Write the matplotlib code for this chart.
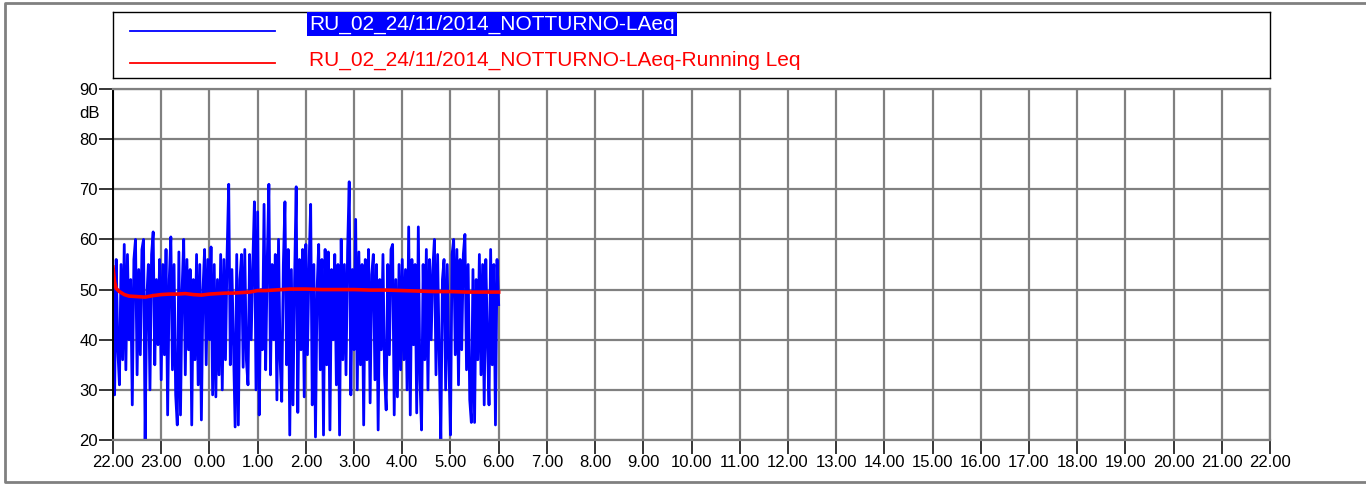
"""Night-time LAeq record with running Leq, 22.00 to 22.00 time axis."""

import matplotlib
matplotlib.use("Agg")
import matplotlib.pyplot as plt
from matplotlib.lines import Line2D

FONT = ["Liberation Sans Narrow", "Liberation Sans", "DejaVu Sans"]
GRID_GRAY = "#808080"
BLUE = "#0000ff"
RED = "#ff0000"

SERIES_LAEQ = "RU_02_24/11/2014_NOTTURNO-LAeq"
SERIES_RUNNING = "RU_02_24/11/2014_NOTTURNO-LAeq-Running Leq"

# LAeq samples every 2 minutes from 22.00 (dB)
LAEQ_STEP_MIN = 2
laeq = [
    54, 29, 56, 38, 31, 55, 36, 59, 34, 57, 40, 52,
    27, 56, 60, 33, 54, 37, 58, 60, 20, 48, 55, 30,
    57, 61.5, 35, 52, 39, 56, 32, 55, 37, 58, 25, 52,
    60.5, 34, 55, 29, 23, 57.5, 25, 50, 60, 33, 56, 38,
    54, 23, 52, 36, 57, 31, 55, 24, 50, 58, 35, 56,
    40, 58.5, 29, 55, 28.6, 52, 33, 57, 30, 56, 36, 57,
    71, 35, 54, 38, 22.6, 57, 23, 52, 57, 34.5, 58, 36,
    31, 57, 40, 55, 67.5, 30, 65.5, 25, 50, 38, 67, 34,
    56, 71, 33, 55, 40, 57, 28, 60, 36, 27.7, 55, 67.5,
    35, 58, 21, 54, 27, 52, 70.5, 25.5, 56, 38, 58, 28.6,
    59, 37, 55, 67, 27, 55, 20.6, 50, 59, 34, 56, 21,
    58, 35, 57.5, 22, 54, 40, 57, 31, 55, 21, 60, 36,
    55, 33, 58, 71.5, 29, 54, 38, 64, 30, 57.5, 35, 55,
    23, 56, 36, 58, 27.4, 53, 57, 32, 55, 22, 52, 38,
    57, 33, 26, 55, 37, 58, 59, 25, 52, 28.6, 55, 34,
    56, 36, 54, 30, 62.5, 25, 56, 39, 55, 25.4, 62.5, 32,
    22, 55, 36, 58, 30, 56, 40, 54, 60, 33, 57, 37,
    20, 52, 56, 30, 55, 36, 21, 57, 60, 37, 58, 31,
    56, 38, 57, 61, 34, 55, 28, 23.5, 54, 23.5, 52, 36,
    57, 33, 55, 27, 56, 40, 27, 58, 35, 55, 23, 56,
    47,
]

# running Leq (dB) at the listed minutes after 22.00
running_min = [0, 2, 4, 8, 14, 20, 30, 40, 50, 60, 70, 80, 90, 100, 110, 120,
               130, 140, 150, 160, 170, 180, 190, 200, 210, 220, 230, 240,
               260, 280, 300, 320, 340, 360, 380, 400, 420, 440, 460, 480]
running_leq = [54.5, 51.5, 50.2, 49.6, 49.0, 48.7, 48.6, 48.5, 48.8, 49.0,
               49.1, 49.1, 49.2, 49.0, 48.9, 49.1, 49.2, 49.3, 49.3, 49.4,
               49.5, 49.8, 49.8, 49.9, 50.0, 50.1, 50.1, 50.1, 50.0, 50.0,
               50.0, 49.9, 49.9, 49.8, 49.7, 49.6, 49.6, 49.5, 49.5, 49.5]

hour_labels = ["22.00", "23.00", "0.00", "1.00", "2.00", "3.00", "4.00",
               "5.00", "6.00", "7.00", "8.00", "9.00", "10.00", "11.00",
               "12.00", "13.00", "14.00", "15.00", "16.00", "17.00",
               "18.00", "19.00", "20.00", "21.00", "22.00"]
db_ticks = [20, 30, 40, 50, 60, 70, 80, 90]


def main() -> int:
    plt.rcParams.update({"font.family": FONT})
    W, H = 1366, 484
    fig = plt.figure(figsize=(W / 100, H / 100), dpi=100)

    # outer frame (top, left, bottom edges)
    fig.add_artist(Line2D([1.01, 5 / W, 5 / W, 1.01],
                          [1 - 3 / H, 1 - 3 / H, 2 / H, 2 / H],
                          transform=fig.transFigure, color=GRID_GRAY, lw=2))

    left, right, top, bottom = 113, 1270, 89, 440
    ax = fig.add_axes([left / W, 1 - bottom / H, (right - left) / W,
                       (bottom - top) / H])

    t_laeq = [i * LAEQ_STEP_MIN / 60 for i in range(len(laeq))]
    t_run = [m / 60 for m in running_min]
    ax.plot(t_laeq, laeq, color=BLUE, lw=2.0)
    ax.plot(t_run, running_leq, color=RED, lw=2.6)

    ax.set_xlim(0, 24)
    ax.set_ylim(20, 90)
    ax.set_xticks(range(len(hour_labels)))
    ax.set_xticklabels(hour_labels)
    ax.set_yticks(db_ticks)
    ax.grid(True, color=GRID_GRAY, lw=1.6)
    ax.set_axisbelow(True)
    for side in ("top", "right", "bottom"):
        ax.spines[side].set_color(GRID_GRAY)
        ax.spines[side].set_linewidth(1.6)
    ax.spines["left"].set_color("black")
    ax.spines["left"].set_linewidth(1.4)
    ax.tick_params(axis="both", direction="out", length=10, width=1.1,
                   color="black", labelsize=12, pad=1)
    ax.text(-13 / (right - left), 1 - 24 / (bottom - top), "dB",
            transform=ax.transAxes, ha="right", va="center", fontsize=12)

    # legend panel
    lg_top, lg_bottom = 12, 78
    lax = fig.add_axes([left / W, 1 - lg_bottom / H, (right - left) / W,
                        (lg_bottom - lg_top) / H])
    lax.set_xlim(0, right - left)
    lax.set_ylim(lg_bottom - lg_top, 0)
    lax.set_xticks([])
    lax.set_yticks([])
    for sp in lax.spines.values():
        sp.set_color("black")
        sp.set_linewidth(1.0)
    lax.plot([17, 162], [19, 19], color=BLUE, lw=1.3)
    lax.plot([17, 162], [51, 51], color=RED, lw=1.3)
    lax.text(196, 12, SERIES_LAEQ, color="white", fontsize=15,
             ha="left", va="center",
             bbox=dict(boxstyle="square,pad=0.12", fc=BLUE, ec="none"))
    lax.text(196, 48, SERIES_RUNNING, color=RED, fontsize=15,
             ha="left", va="center")

    fig.savefig("out.png", dpi=100)
    plt.close(fig)
    return 0


if __name__ == "__main__":
    raise SystemExit(main())
